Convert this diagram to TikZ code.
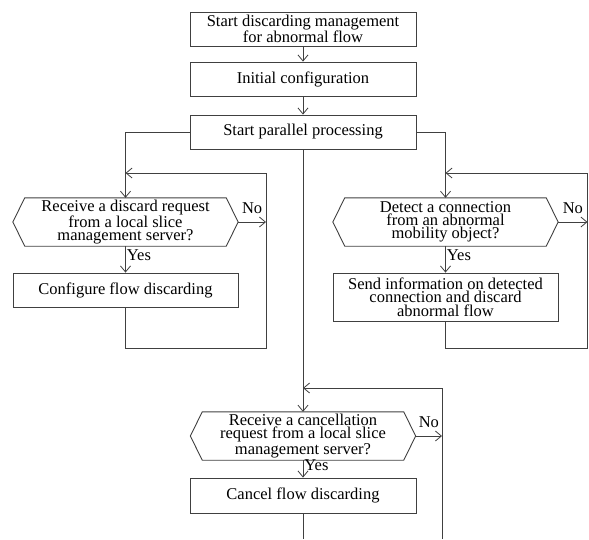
\documentclass[tikz,border=0pt]{standalone}
\usepackage{fontspec}
\setmainfont{Liberation Serif}
\usetikzlibrary{arrows.meta}
\begin{document}
\begin{tikzpicture}[x=1pt,y=1pt,
  line/.style={draw=black!75, line width=0.9pt},
  arr/.style={line, -{Straight Barb[length=6pt,width=10pt,line width=0.8pt]}},
  txt/.style={font=\fontsize{16.5}{13.3}\selectfont, text=black},
  proc/.style={line, txt, rectangle, minimum width=226pt, minimum height=34pt, inner sep=0pt, align=center},
  dec/.style={txt, rectangle, minimum width=201pt, minimum height=48pt, inner sep=0pt, align=center},
  lbl/.style={txt, inner sep=1pt}
]
\useasboundingbox (0,0) rectangle (589,-539);

\node[proc] (start) at (303,-29) {Start discarding management\\for abnormal flow};
\node[proc] (init) at (303,-79) {Initial configuration};
\node[proc] (par) at (303,-132) {Start parallel processing};
\node[dec] (ldec) at (125.5,-222) {Receive a discard request\\from a local slice\\management server?};
\node[proc, minimum width=225pt] (cfg) at (125.5,-290) {Configure flow discarding};
\node[dec] (rdec) at (445.5,-222) {Detect a connection\\from an abnormal\\mobility object?};
\node[proc, minimum width=225pt, minimum height=48pt] (send) at (445.5,-297) {Send information on detected\\connection and discard\\abnormal flow};
\node[dec] (bdec) at (303,-436) {Receive a cancellation\\request from a local slice\\management server?};
\node[proc, minimum height=35pt] (cancel) at (303,-495.5) {Cancel flow discarding};

\foreach \n in {ldec,rdec,bdec}
  \draw[line] (\n.north west) -- (\n.north east) -- ([xshift=12pt]\n.east) -- (\n.south east) -- (\n.south west) -- ([xshift=-12pt]\n.west) -- cycle;

\coordinate (lr) at (266,-173);
\coordinate (lb) at (266,-348);
\coordinate (rr) at (587.5,-173);
\coordinate (rb) at (587.5,-348);
\coordinate (br) at (442,-388);
\coordinate (bb) at (442,-539);
\coordinate (cb) at (303,-539);

\draw[arr] (start) -- (init);
\draw[arr] (init) -- (par);
\draw[arr] (par.west) -| (ldec.north);
\draw[arr] (par.east) -| (rdec.north);
\draw[arr] (par.south) -- (bdec.north);

\draw[arr] (ldec.south) -- node[lbl, right, yshift=4pt] {Yes} (cfg.north);
\draw[arr] (cfg.south) |- (lb) -- (lr) -- (lr -| ldec.north);
\draw[arr] ([xshift=12pt]ldec.east) -- node[lbl, above=7pt] {No} (lr |- ldec.east);

\draw[arr] (rdec.south) -- node[lbl, right, yshift=4pt] {Yes} (send.north);
\draw[arr] (send.south) |- (rb) -- (rr) -- (rr -| rdec.north);
\draw[arr] ([xshift=12pt]rdec.east) -- node[lbl, above=7pt] {No} (rr |- rdec.east);

\draw[arr] (bdec.south) -- node[lbl, right, yshift=4pt] {Yes} (cancel.north);
\draw[line] (cancel.south) -- (cb);
\draw[arr] (bb) -- (br) -- (br -| bdec.north);
\draw[arr] ([xshift=12pt]bdec.east) -- node[lbl, above=7pt] {No} (br |- bdec.east);
\end{tikzpicture}
\end{document}
